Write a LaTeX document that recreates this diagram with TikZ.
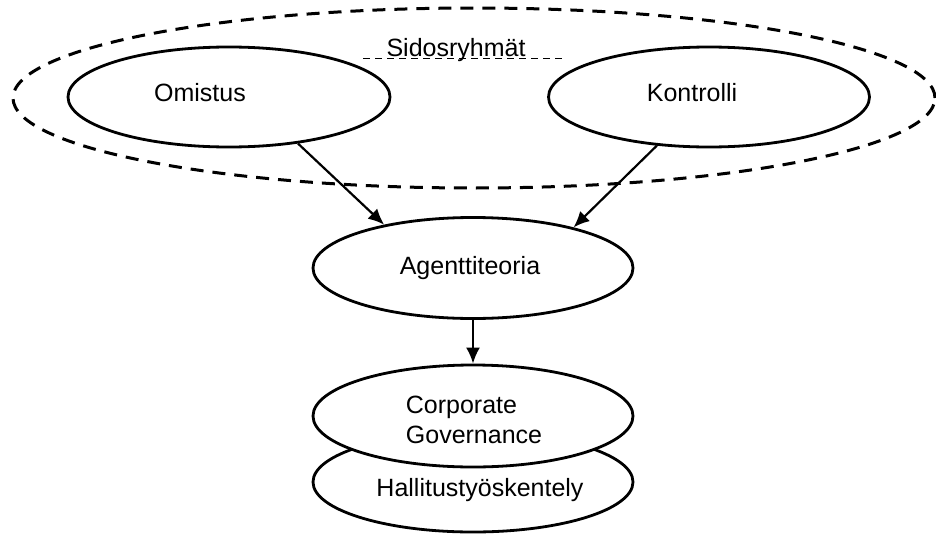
\documentclass[tikz,border=0pt]{standalone}
\usepackage{fontspec}
\setmainfont{Liberation Sans}
\usetikzlibrary{shapes.geometric,arrows.meta}
\begin{document}
\begin{tikzpicture}[x=1pt,y=-1pt,
  oval/.style={ellipse, draw, line width=2.8pt, fill=white, inner sep=0pt,
    minimum width=320pt, minimum height=100pt},
  groupoval/.style={ellipse, draw, line width=3pt, dash pattern=on 13pt off 9pt,
    inner sep=0pt, minimum width=922pt, minimum height=180pt},
  lbl/.style={font=\fontsize{25}{30}\selectfont, inner sep=0pt},
  flow/.style={line width=2.2pt, -{Latex[length=16pt,width=14pt]}}]
  \useasboundingbox (0,0) rectangle (936,538);

  % stakeholder boundary
  \node[groupoval] (sid) at (474,98) {};
  \node[lbl] (sidlbl) at (456,50) {Sidosryhmät};
  \draw[line width=0.9pt, dash pattern=on 7pt off 5pt]
    ([xshift=-93pt,yshift=-2pt]sidlbl.base) -- ([xshift=109pt,yshift=-2pt]sidlbl.base);

  % ownership and control
  \node[oval, minimum width=322pt] (om) at (229,97) {};
  \node[lbl] (omlbl) at (200,93) {Omistus};
  \node[oval, minimum width=321pt] (ko) at (709,97) {};
  \node[lbl] (kolbl) at (692,93) {Kontrolli};

  % agency theory
  \node[oval, minimum height=101pt] (ag) at (473,268) {};
  \node[lbl] (aglbl) at (470,268) {Agenttiteoria};

  % governance stack
  \node[oval] (hw) at (473,482) {};
  \node[oval, minimum height=102pt] (cg) at (473,416) {};
  \node[lbl, align=left] (cglbl) at (474,420) {Corporate\\Governance};
  \node[lbl] (hwlbl) at (480,490) {Hallitustyöskentely};

  % connectors
  \draw[flow] (om.-34) -- (ag.154);
  \draw[flow] (ko.-137) -- (ag.22);
  \draw[flow] (ag.south) -- (cg.north);
\end{tikzpicture}
\end{document}
